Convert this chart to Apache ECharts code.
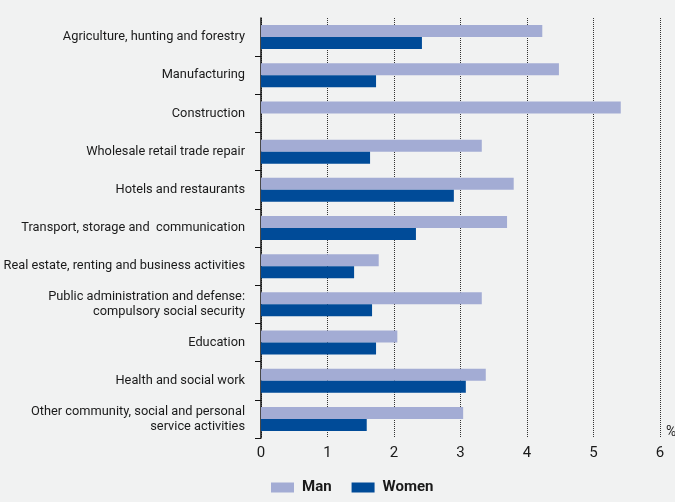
<!DOCTYPE html>
<html><head><meta charset="utf-8">
<script src="https://cdn.jsdelivr.net/npm/echarts@6/dist/echarts.min.js"></script>
<style>html,body{margin:0;padding:0;background:#f1f2f2;}#c{width:675px;height:502px;}</style>
</head><body><div id="c"></div>
<script>
const categories = [
  "Agriculture, hunting and forestry",
  "Manufacturing",
  "Construction",
  "Wholesale retail trade repair",
  "Hotels and restaurants",
  "Transport, storage and  communication",
  "Real estate, renting and business activities",
  "Public administration and defense:\ncompulsory social security",
  "Education",
  "Health and social work",
  "Other community, social and personal\nservice activities"
];
const manValues = [4.23, 4.48, 5.41, 3.32, 3.80, 3.70, 1.77, 3.32, 2.05, 3.38, 3.04];
const womenValues = [2.42, 1.73, null, 1.64, 2.90, 2.33, 1.40, 1.67, 1.73, 3.08, 1.59];
const xTicks = [0, 1, 2, 3, 4, 5, 6];

const font = "Roboto, sans-serif";
const chart = echarts.init(document.getElementById('c'));
chart.setOption({
  backgroundColor: '#f1f2f2',
  animation: false,
  textStyle: {fontFamily: font},
  grid: {left: 261, right: 15, top: 18, bottom: 64, containLabel: false, outerBoundsMode: 'none'},
  legend: {
    bottom: 2, left: 266, itemWidth: 23, itemHeight: 10, itemGap: 20,
    icon: 'rect',
    textStyle: {fontFamily: font, fontSize: 15, fontWeight: 'bold', color: '#1a1a1a', padding: [0,0,0,3]},
    data: ['Man', 'Women']
  },
  xAxis: {
    type: 'value', min: xTicks[0], max: xTicks[xTicks.length-1], interval: 1,
    axisLine: {show: false}, axisTick: {show: false},
    axisLabel: {fontSize: 15, color: '#1a1a1a', margin: 8, fontFamily: font},
    splitLine: {show: true, lineStyle: {type: 'dotted', color: '#333', width: 1}},
    name: '%', nameLocation: 'end', nameGap: 6,
    nameTextStyle: {fontSize: 14, color: '#1a1a1a', fontFamily: font, verticalAlign: 'bottom', padding: [0,0,-1,0]}
  },
  yAxis: {
    type: 'category', inverse: true, data: categories,
    axisLine: {show: true, lineStyle: {color: '#111', width: 1.5}},
    axisTick: {show: true, length: 6, inside: false, interval: function (i) { return i !== 0; }, lineStyle: {color: '#111'}},
    axisLabel: {fontSize: 12.8, color: '#1a1a1a', margin: 16, lineHeight: 15, fontFamily: font, align: 'right'},
    splitLine: {show: false}
  },
  series: [
    {name: 'Man', type: 'bar', data: manValues, barWidth: 12, barGap: '0%', itemStyle: {color: '#a3acd4'}},
    {name: 'Women', type: 'bar', data: womenValues, barWidth: 12, barGap: '0%', itemStyle: {color: '#004b98'}}
  ]
});
</script></body></html>
